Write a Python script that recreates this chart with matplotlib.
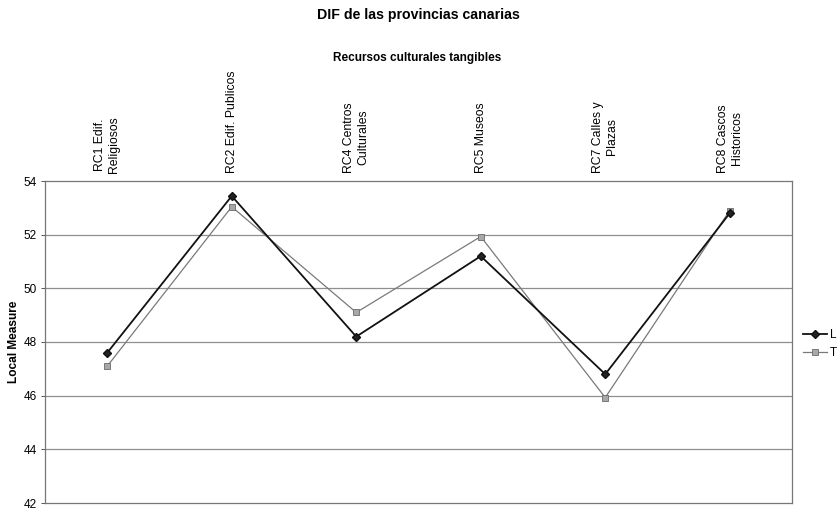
import matplotlib
matplotlib.use("Agg")
import matplotlib.pyplot as plt
from matplotlib.lines import Line2D

plt.rcParams['font.family'] = ['Liberation Sans', 'DejaVu Sans']

categories = ["RC1 Edif.\nReligiosos", "RC2 Edif. Publicos", "RC4 Centros\nCulturales",
              "RC5 Museos", "RC7 Calles y\nPlazas", "RC8 Cascos\nHistoricos"]
series_L = [47.6, 53.44, 48.2, 51.2, 46.8, 52.8]
series_T = [47.1, 53.04, 49.1, 51.93, 45.93, 52.9]
y_ticks = [42, 44, 46, 48, 50, 52, 54]

fig = plt.figure(figsize=(8.38, 5.08), dpi=100)
ax = fig.add_axes([45/838, 5/508, 747/838, 322/508])

x = list(range(len(categories)))
for yv in y_ticks[1:-1]:
    ax.axhline(yv, color='#8f8f8f', lw=0.9, zorder=1)

ax.plot(x, series_T, color='#7a7a7a', lw=0.9, marker='s', markersize=4.5,
        markerfacecolor='#a8a8a8', markeredgecolor='#6a6a6a', markeredgewidth=0.6, zorder=3)
ax.plot(x, series_L, color='#111111', lw=1.3, marker='D', markersize=3.6,
        markerfacecolor='#222222', markeredgecolor='#111111', zorder=4)

ax.set_xlim(-0.5, len(categories) - 0.5)
ax.set_ylim(42, 54)
ax.set_yticks(y_ticks)
ax.tick_params(axis='y', labelsize=8.5, length=3, width=0.7, color='#555555', pad=3)
ax.xaxis.tick_top()
ax.set_xticks(x)
ax.set_xticklabels(categories, rotation=90, fontsize=8.8, ha='center', va='bottom',
                   multialignment='center')
ax.tick_params(axis='x', length=0, pad=6)
for s in ax.spines.values():
    s.set_color('#777777')
    s.set_linewidth(0.9)

ax.set_ylabel("Local Measure", fontsize=8.6, fontweight='bold')
ax.yaxis.set_label_coords(-25/747, 0.5)

fig.text(418/838, 1 - 15/508, "DIF de las provincias canarias", ha='center', va='center',
         fontsize=10.2, fontweight='bold')
fig.text(417/838, 1 - 58/508, "Recursos culturales tangibles", ha='center', va='center',
         fontsize=8.5, fontweight='bold')

handles = [
    Line2D([], [], color='#111111', lw=1.3, marker='D', markersize=3.6,
           markerfacecolor='#222222', markeredgecolor='#111111'),
    Line2D([], [], color='#7a7a7a', lw=0.9, marker='s', markersize=4.5,
           markerfacecolor='#a8a8a8', markeredgecolor='#6a6a6a', markeredgewidth=0.6),
]
fig.legend(handles, ["L", "T"], loc='center left', bbox_to_anchor=(803/838, 1 - 344/508),
           frameon=False, fontsize=8.5, handlelength=2.0, handletextpad=0.3,
           labelspacing=0.45, borderpad=0, borderaxespad=0)

fig.savefig("out.png", dpi=100)
